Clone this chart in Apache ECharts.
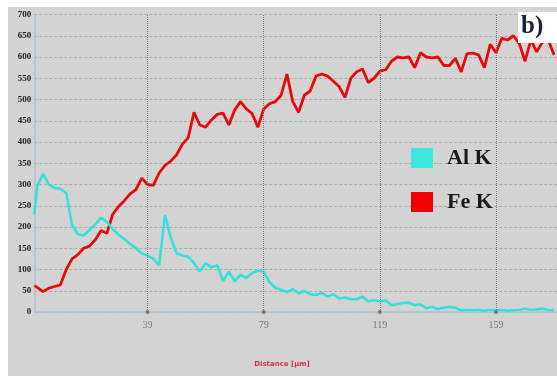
<!DOCTYPE html>
<html>
<head>
<meta charset="utf-8">
<script src="https://cdn.jsdelivr.net/npm/echarts@6/dist/echarts.min.js"></script>
<style>
  html, body { margin: 0; padding: 0; background: #ffffff; }
  #wrap { position: absolute; left: 8px; top: 7px; width: 549px; height: 369px; background: #d3d3d3; }
  #chart { width: 549px; height: 369px; }
</style>
</head>
<body>
<div id="wrap"><div id="chart"></div></div>
<script>
// Distance positions (µm) of the samples
const distance = [0, 1, 3, 5, 7, 9, 11, 13, 15, 17, 19, 21, 23, 25, 27, 29, 31, 33, 35, 37, 39,
  41, 43, 45, 47, 49, 51, 53, 55, 57, 59, 61, 63, 65, 67, 69, 71, 73, 75, 77, 79,
  81, 83, 85, 87, 89, 91, 93, 95, 97, 99, 101, 103, 105, 107, 109, 111, 113, 115, 117, 119,
  121, 123, 125, 127, 129, 131, 133, 135, 137, 139, 141, 143, 145, 147, 149, 151, 153, 155, 157, 159,
  161, 163, 165, 167, 169, 171, 173, 175, 177, 179];

// Al K counts
const alK = [230, 295, 325, 300, 292, 290, 280, 205, 183, 180, 193, 206, 222, 212, 195, 182, 172, 160, 150, 138, 133,
  125, 110, 228, 175, 138, 133, 130, 115, 95, 115, 105, 110, 73, 95, 72, 88, 80, 92, 97, 95,
  70, 57, 52, 47, 54, 44, 50, 42, 40, 45, 36, 42, 32, 34, 30, 30, 36, 25, 28, 25,
  27, 16, 19, 21, 22, 16, 18, 9, 12, 7, 10, 12, 10, 4, 5, 4, 5, 3, 5, 4,
  5, 3, 4, 5, 8, 5, 6, 8, 5, 4];

// Fe K counts
const feK = [62, 58, 48, 56, 60, 64, 100, 125, 135, 150, 155, 170, 192, 185, 230, 248, 262, 278, 288, 315, 300,
  298, 327, 345, 355, 370, 395, 410, 470, 440, 435, 452, 465, 468, 440, 475, 495, 478, 467, 435, 478,
  490, 495, 510, 560, 495, 470, 510, 520, 555, 560, 555, 543, 530, 505, 550, 565, 572, 540, 550, 567,
  570, 590, 600, 598, 600, 575, 610, 600, 598, 600, 580, 580, 597, 565, 608, 609, 605, 575, 630, 610,
  644, 640, 650, 632, 590, 640, 612, 635, 640, 605];

const xTicks = [39, 79, 119, 159];
const seriesNames = ['Al K', 'Fe K'];

const chart = echarts.init(document.getElementById('chart'));
const option = {
  backgroundColor: 'transparent',
  animation: false,
  grid: { left: 26.3, right: 0, top: 7.5, bottom: 64, containLabel: false, outerBoundsMode: 'none' },
  xAxis: {
    type: 'value', min: 0, max: 180, interval: 1,
    axisLine: { show: true, lineStyle: { color: '#b3c3cf', width: 1.5 } },
    axisTick: { show: false },
    splitLine: { show: false },
    axisLabel: {
      margin: 8, fontSize: 10, color: '#6d7c92', fontFamily: 'Liberation Serif',
      formatter: v => xTicks.includes(v) ? String(v) : ''
    }
  },
  yAxis: {
    type: 'value', min: 0, max: 700, interval: 50,
    name: 'Kcts', nameLocation: 'middle', nameGap: 20, nameRotate: 90,
    nameTextStyle: { color: '#d0304a', fontSize: 6, fontWeight: 'bold' },
    axisLine: { show: true, lineStyle: { color: '#b3c3cf', width: 1.5 } },
    axisTick: { show: false },
    axisLabel: { margin: 3, fontSize: 9, color: '#222', fontWeight: 'bold', fontFamily: 'Liberation Serif' },
    splitLine: { show: true, lineStyle: { color: '#a9a9a9', type: [3, 2], width: 1 } }
  },
  legend: {
    data: [
      { name: seriesNames[0], icon: 'rect' },
      { name: seriesNames[1], icon: 'rect' }
    ],
    orient: 'vertical', left: 398, top: 135,
    itemWidth: 22, itemHeight: 20, itemGap: 22,
    textStyle: { fontFamily: 'Liberation Serif', fontWeight: 'bold', fontSize: 22, color: '#1a1a1a', padding: [0, 0, 0, 9] }
  },
  series: [
    {
      name: seriesNames[0], type: 'line', symbol: 'none',
      data: distance.map((d, i) => [d, alK[i]]),
      lineStyle: { color: '#30e3dc', width: 2.5 }, itemStyle: { color: '#3de8de' },
      markLine: {
        silent: true, symbol: ['circle', 'none'], symbolSize: 4, label: { show: false },
        lineStyle: { color: '#7a7a7a', type: 'dotted', width: 1 },
        data: xTicks.map(v => ({ xAxis: v }))
      },
      z: 3
    },
    {
      name: seriesNames[1], type: 'line', symbol: 'none',
      data: distance.map((d, i) => [d, feK[i]]),
      lineStyle: { color: '#e60a0a', width: 2.8 }, itemStyle: { color: '#f00000' },
      z: 2
    }
  ],
  graphic: [
    {
      type: 'rect', z: 100, shape: { x: 510, y: 5, width: 42, height: 31 },
      style: { fill: '#ffffff' }
    },
    {
      type: 'text', z: 101, x: 513, y: 7,
      style: { text: 'b)', font: 'bold 25px "Liberation Serif"', fill: '#1c2040' }
    },
    {
      type: 'text', z: 101, x: 274, y: 354,
      style: { text: 'Distance [µm]', font: 'bold 7px "DejaVu Sans"', fill: '#d0304a', textAlign: 'center' }
    }
  ]
};
chart.setOption(option);
</script>
</body>
</html>
